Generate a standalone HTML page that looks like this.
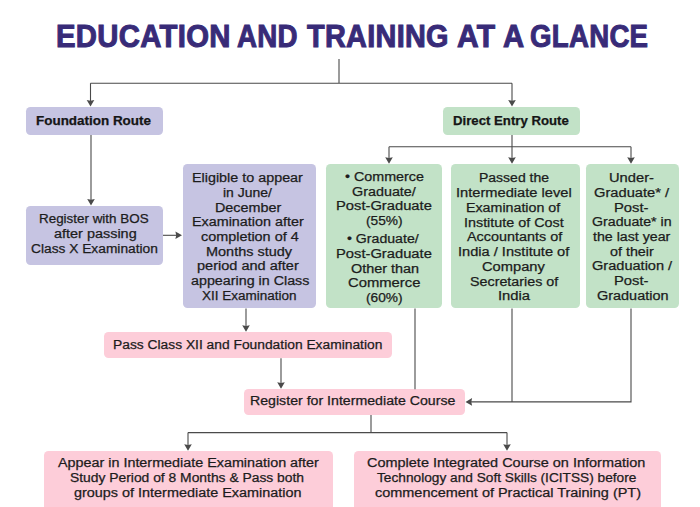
<!DOCTYPE html>
<html>
<head>
<meta charset="utf-8">
<style>
html,body{margin:0;padding:0;background:#fff;}
body{width:700px;height:507px;position:relative;overflow:hidden;font-family:"Liberation Sans",sans-serif;color:#222;}
.t{position:absolute;font-weight:bold;color:#382b78;line-height:36px;white-space:nowrap;letter-spacing:0.3px;-webkit-text-stroke:1.0px #382b78;transform-origin:0 0;}
.b{position:absolute;}
.l{position:absolute;white-space:nowrap;font-size:12.5px;line-height:16px;color:#1c1c1c;-webkit-text-stroke:0.25px #1c1c1c;transform-origin:0 0;}
.l.bd{font-weight:bold;color:#151515;-webkit-text-stroke:0.25px #151515;}
svg{position:absolute;left:0;top:0;}
</style>
</head>
<body>
<div class="t" style="left:55.52px;top:18.23px;font-size:30.5px;transform:scaleX(0.9613);">EDUCATION</div>
<div class="t" style="left:237.00px;top:18.23px;font-size:30.5px;transform:scaleX(0.9079);">AND</div>
<div class="t" style="left:307.00px;top:18.23px;font-size:30.5px;transform:scaleX(0.9466);">TRAINING</div>
<div class="t" style="left:457.00px;top:18.23px;font-size:30.5px;transform:scaleX(0.9836);">AT</div>
<div class="t" style="left:503.00px;top:18.23px;font-size:30.5px;transform:scaleX(0.9602);">A</div>
<div class="t" style="left:530.08px;top:18.23px;font-size:30.5px;transform:scaleX(0.9062);">GLANCE</div>
<div class="b" style="left:26px;top:107px;width:137px;height:28px;border-radius:4.5px;background:#c6c4e2;"></div>
<div class="b" style="left:443px;top:107px;width:137px;height:28px;border-radius:4.5px;background:#c2e2c7;"></div>
<div class="b" style="left:26px;top:206px;width:137px;height:58.5px;border-radius:4.5px;background:#c6c4e2;"></div>
<div class="b" style="left:183px;top:163.9px;width:133px;height:144.5px;border-radius:4.5px;background:#c6c4e2;"></div>
<div class="b" style="left:326.2px;top:163.9px;width:116.3px;height:144.5px;border-radius:4.5px;background:#c2e2c7;"></div>
<div class="b" style="left:450.5px;top:163.9px;width:129px;height:144.5px;border-radius:4.5px;background:#c2e2c7;"></div>
<div class="b" style="left:585.5px;top:163.9px;width:93px;height:144.5px;border-radius:4.5px;background:#c2e2c7;"></div>
<div class="b" style="left:103.8px;top:332.0px;width:288.0px;height:26.1px;border-radius:4.5px;background:#fdcdd9;"></div>
<div class="b" style="left:243.5px;top:389.3px;width:221px;height:25.7px;border-radius:4.5px;background:#fdcdd9;"></div>
<div class="b" style="left:43.5px;top:451px;width:289px;height:70px;border-radius:4.5px;background:#fdcdd9;"></div>
<div class="b" style="left:354px;top:451px;width:307px;height:70px;border-radius:4.5px;background:#fdcdd9;"></div>
<div class="l bd" style="left:36.42px;top:112.67px;transform:scaleX(1.0755);">Foundation Route</div>
<div class="l bd" style="left:452.94px;top:112.67px;transform:scaleX(1.0550);">Direct Entry Route</div>
<div class="l" style="left:38.93px;top:211.47px;transform:scaleX(1.0733);">Register with BOS</div>
<div class="l" style="left:53.60px;top:226.22px;transform:scaleX(1.1549);">after passing</div>
<div class="l" style="left:30.50px;top:240.97px;transform:scaleX(1.1000);">Class X Examination</div>
<div class="l" style="left:192.35px;top:170.17px;transform:scaleX(1.1479);">Eligible to appear</div>
<div class="l" style="left:222.78px;top:184.86px;transform:scaleX(1.1163);">in June/</div>
<div class="l" style="left:215.15px;top:199.55px;transform:scaleX(1.1491);">December</div>
<div class="l" style="left:192.35px;top:214.24px;transform:scaleX(1.1479);">Examination after</div>
<div class="l" style="left:201.00px;top:228.93px;transform:scaleX(1.1518);">completion of 4</div>
<div class="l" style="left:205.64px;top:243.62px;transform:scaleX(1.1575);">Months study</div>
<div class="l" style="left:197.04px;top:258.31px;transform:scaleX(1.1621);">period and after</div>
<div class="l" style="left:190.60px;top:273.00px;transform:scaleX(1.1437);">appearing in Class</div>
<div class="l" style="left:202.00px;top:287.69px;transform:scaleX(1.0805);">XII Examination</div>
<div class="l" style="left:345.20px;top:168.67px;transform:scaleX(1.1435);">• Commerce</div>
<div class="l" style="left:351.60px;top:183.52px;transform:scaleX(1.1482);">Graduate/</div>
<div class="l" style="left:336.12px;top:198.37px;transform:scaleX(1.1788);">Post-Graduate</div>
<div class="l" style="left:365.90px;top:213.22px;transform:scaleX(1.0969);">(55%)</div>
<div class="l" style="left:347.30px;top:230.87px;transform:scaleX(1.1297);">• Graduate/</div>
<div class="l" style="left:336.12px;top:245.72px;transform:scaleX(1.1788);">Post-Graduate</div>
<div class="l" style="left:350.70px;top:260.57px;transform:scaleX(1.1534);">Other than</div>
<div class="l" style="left:347.81px;top:275.42px;transform:scaleX(1.1850);">Commerce</div>
<div class="l" style="left:365.90px;top:290.27px;transform:scaleX(1.0969);">(60%)</div>
<div class="l" style="left:478.58px;top:170.47px;transform:scaleX(1.1197);">Passed the</div>
<div class="l" style="left:456.23px;top:185.19px;transform:scaleX(1.1722);">Intermediate level</div>
<div class="l" style="left:466.46px;top:199.91px;transform:scaleX(1.1390);">Examination of</div>
<div class="l" style="left:463.75px;top:214.63px;transform:scaleX(1.1477);">Institute of Cost</div>
<div class="l" style="left:466.70px;top:229.35px;transform:scaleX(1.1506);">Accountants of</div>
<div class="l" style="left:458.13px;top:244.07px;transform:scaleX(1.1691);">India / Institute of</div>
<div class="l" style="left:482.23px;top:258.79px;transform:scaleX(1.1736);">Company</div>
<div class="l" style="left:469.66px;top:273.51px;transform:scaleX(1.1434);">Secretaries of</div>
<div class="l" style="left:497.52px;top:288.23px;transform:scaleX(1.1846);">India</div>
<div class="l" style="left:608.72px;top:170.27px;transform:scaleX(1.1757);">Under-</div>
<div class="l" style="left:594.00px;top:184.97px;transform:scaleX(1.1750);">Graduate* /</div>
<div class="l" style="left:614.22px;top:199.67px;transform:scaleX(1.1821);">Post-</div>
<div class="l" style="left:591.90px;top:214.37px;transform:scaleX(1.1343);">Graduate* in</div>
<div class="l" style="left:593.20px;top:229.07px;transform:scaleX(1.1353);">the last year</div>
<div class="l" style="left:609.90px;top:243.77px;transform:scaleX(1.1447);">of their</div>
<div class="l" style="left:591.90px;top:258.47px;transform:scaleX(1.1652);">Graduation /</div>
<div class="l" style="left:614.22px;top:273.17px;transform:scaleX(1.1821);">Post-</div>
<div class="l" style="left:596.70px;top:287.87px;transform:scaleX(1.1557);">Graduation</div>
<div class="l" style="left:113.20px;top:336.87px;transform:scaleX(1.1045);">Pass Class XII and Foundation Examination</div>
<div class="l" style="left:250.37px;top:393.27px;transform:scaleX(1.1328);">Register for Intermediate Course</div>
<div class="l" style="left:58.00px;top:455.47px;transform:scaleX(1.1480);">Appear in Intermediate Examination after</div>
<div class="l" style="left:69.79px;top:470.47px;transform:scaleX(1.1081);">Study Period of 8 Months &amp; Pass both</div>
<div class="l" style="left:74.30px;top:485.47px;transform:scaleX(1.1528);">groups of Intermediate Examination</div>
<div class="l" style="left:367.34px;top:455.47px;transform:scaleX(1.1577);">Complete Integrated Course on Information</div>
<div class="l" style="left:376.90px;top:470.47px;transform:scaleX(1.0949);">Technology and Soft Skills (ICITSS) before</div>
<div class="l" style="left:375.10px;top:485.47px;transform:scaleX(1.1568);">commencement of Practical Training (PT)</div>
<svg width="700" height="507" viewBox="0 0 700 507">
<g stroke="#4a4a4a" stroke-width="1.1" fill="none"><path d="M339 59 V83.2 M90.5 83.2 H512 M90.5 83.2 V101 M512 83.2 V101"/><path d="M91 135 V200"/><path d="M163 235.3 H177"/><path d="M512 135 V158 M389 146.7 H631 M389 146.7 V158 M631 146.7 V158"/><path d="M246 308.5 V326"/><path d="M281 358.3 V383"/><path d="M415 308.5 V389.3"/><path d="M512 308.5 V401.9 M631 308.5 V401.9 H471"/><path d="M371 415 V432.6 M188 432.6 H507 M188 432.6 V445 M507 432.6 V445"/></g>
<g fill="#4a4a4a"><path d="M90.5 106.5 L86.7 99.9 L90.5 100.7 L94.3 99.9 Z"/><path d="M512 106.5 L508.2 99.9 L512 100.7 L515.8 99.9 Z"/><path d="M91 205.5 L87.2 198.9 L91 199.70000000000002 L94.8 198.9 Z"/><path d="M182 235.3 L175.4 231.5 L176.20000000000002 235.3 L175.4 239.10000000000002 Z"/><path d="M389 163.8 L385.2 157.20000000000002 L389 158.00000000000003 L392.8 157.20000000000002 Z"/><path d="M512 163.8 L508.2 157.20000000000002 L512 158.00000000000003 L515.8 157.20000000000002 Z"/><path d="M631 163.8 L627.2 157.20000000000002 L631 158.00000000000003 L634.8 157.20000000000002 Z"/><path d="M246 331.8 L242.2 325.2 L246 326.0 L249.8 325.2 Z"/><path d="M281 388.8 L277.2 382.2 L281 383.0 L284.8 382.2 Z"/><path d="M465.5 401.9 L472.1 398.09999999999997 L471.3 401.9 L472.1 405.7 Z"/><path d="M188 450.8 L184.2 444.2 L188 445.0 L191.8 444.2 Z"/><path d="M507 450.8 L503.2 444.2 L507 445.0 L510.8 444.2 Z"/></g>
</svg>
</body>
</html>
